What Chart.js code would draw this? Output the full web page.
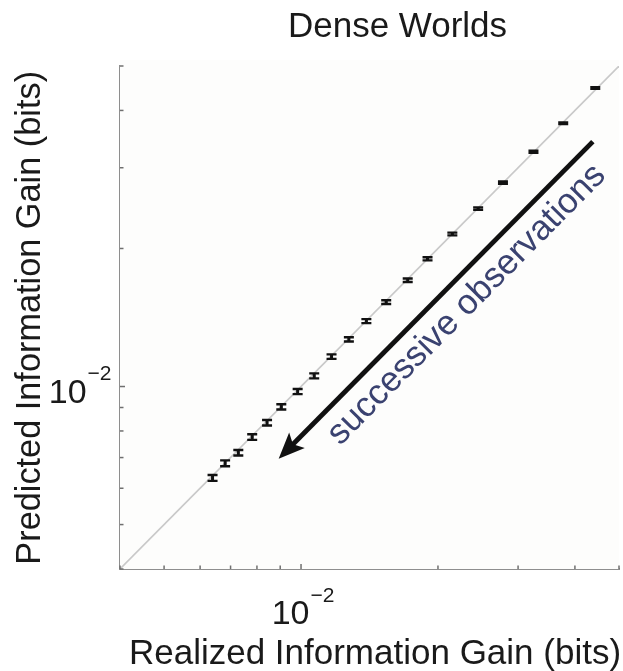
<!DOCTYPE html>
<html>
<head>
<meta charset="utf-8">
<script src="https://cdn.jsdelivr.net/npm/chart.js@4.4.1/dist/chart.umd.min.js"></script>
<style>
html,body{margin:0;padding:0;background:#ffffff;}
canvas{display:block;}
</style>
</head>
<body>
<canvas id="c" width="623" height="671"></canvas>
<script>
// ---------- data ----------
const chartTitle = 'Dense Worlds';
const xTitle = 'Realized Information Gain (bits)';
const yTitle = 'Predicted Information Gain (bits)';
const annotationText = 'successive observations';

const realized  = [0.00639,0.00681,0.00728,0.00781,0.00842,0.00905,0.00983,0.01069,0.01167,0.01274,
                   0.01392,0.01539,0.01716,0.01897,0.02151,0.02451,0.02779,0.03243,0.03770,0.04434];
const predicted = [0.00632,0.00680,0.00717,0.00776,0.00834,0.00903,0.00975,0.01055,0.01162,0.01267,
                   0.01389,0.01528,0.01705,0.01899,0.02151,0.02443,0.02783,0.03252,0.03751,0.04475];
const predictedErr = [0.000095,0.000100,0.000100,0.000110,0.000115,0.000120,0.000125,0.000130,0.000130,0.000135,
                      0.000140,0.000145,0.000150,0.000150,0.000150,0.000155,0.000160,0.000165,0.000170,0.000180];

const axisMin = 0.004;
const axisMax = 0.05;
const tickValues = [0.004,0.005,0.006,0.007,0.008,0.009,0.01,0.02,0.03,0.04,0.05];
const labelledTicks = [0.01];
const tickBase = '10';
const tickExponent = '\u22122';

const arrowTail = {x:0.0438, y:0.0342};
const arrowTip  = {x:0.00893, y:0.00696};
const annotationAnchor = {x:0.01219, y:0.00741};

// ---------- drawing ----------
const FONT = '"Liberation Sans", Arial, Helvetica, sans-serif';

const decor = {
  id: 'decor',
  beforeDatasetsDraw(chart) {
    const {ctx, chartArea: a} = chart;
    ctx.save();
    ctx.fillStyle = '#fdfdfc';
    ctx.fillRect(a.left, a.top - 6, a.right - a.left, a.bottom - a.top + 6);
    ctx.restore();
  },
  afterDatasetsDraw(chart) {
    const {ctx} = chart;
    const xs = chart.scales.x, ys = chart.scales.y;
    // error bars
    ctx.save();
    ctx.strokeStyle = '#111111';
    realized.forEach((xv, i) => {
      const px = xs.getPixelForValue(xv);
      const y1 = ys.getPixelForValue(predicted[i] - predictedErr[i]);
      const y2 = ys.getPixelForValue(predicted[i] + predictedErr[i]);
      const hw = 5;
      ctx.lineWidth = 3;
      ctx.beginPath();
      ctx.moveTo(px, y1); ctx.lineTo(px, y2);
      ctx.stroke();
      ctx.lineWidth = 2.4;
      ctx.beginPath();
      ctx.moveTo(px - hw, y1); ctx.lineTo(px + hw, y1);
      ctx.moveTo(px - hw, y2); ctx.lineTo(px + hw, y2);
      ctx.stroke();
    });
    ctx.restore();

    // arrow
    const tx = xs.getPixelForValue(arrowTail.x), ty = ys.getPixelForValue(arrowTail.y);
    const hx = xs.getPixelForValue(arrowTip.x),  hy = ys.getPixelForValue(arrowTip.y);
    const dx = hx - tx, dy = hy - ty, len = Math.hypot(dx, dy);
    const ux = dx / len, uy = dy / len, nx = -uy, ny = ux;
    const L = 26, W = 11;
    ctx.save();
    ctx.strokeStyle = '#111111';
    ctx.fillStyle = '#111111';
    ctx.lineWidth = 4.8;
    ctx.beginPath();
    ctx.moveTo(tx, ty);
    ctx.lineTo(hx - ux * L * 0.7, hy - uy * L * 0.7);
    ctx.stroke();
    ctx.beginPath();
    ctx.moveTo(hx, hy);
    ctx.lineTo(hx - ux * L + nx * W, hy - uy * L + ny * W);
    ctx.lineTo(hx - ux * L * 0.78, hy - uy * L * 0.78);
    ctx.lineTo(hx - ux * L - nx * W, hy - uy * L - ny * W);
    ctx.closePath();
    ctx.fill();
    ctx.restore();

    // annotation text, parallel to the arrow
    const ax = xs.getPixelForValue(annotationAnchor.x), ay = ys.getPixelForValue(annotationAnchor.y);
    const ang = Math.atan2(ty - hy, tx - hx);
    ctx.save();
    ctx.translate(ax, ay);
    ctx.rotate(ang);
    ctx.font = '35px ' + FONT;
    ctx.fillStyle = '#3a4270';
    ctx.textAlign = 'left';
    ctx.textBaseline = 'alphabetic';
    ctx.fillText(annotationText, 0, 0);
    ctx.restore();
  },
  afterDraw(chart) {
    const {ctx, chartArea: a} = chart;
    const xs = chart.scales.x, ys = chart.scales.y;
    ctx.save();
    // inward tick marks
    ctx.strokeStyle = '#6f6f6f';
    ctx.lineWidth = 1.5;
    tickValues.forEach(v => {
      const major = labelledTicks.includes(v);
      const l = major ? 5 : 3.5;
      const px = xs.getPixelForValue(v);
      ctx.beginPath(); ctx.moveTo(px, a.bottom); ctx.lineTo(px, a.bottom - l); ctx.stroke();
      const py = ys.getPixelForValue(v);
      ctx.beginPath(); ctx.moveTo(a.left, py); ctx.lineTo(a.left + l, py); ctx.stroke();
    });

    // tick labels 10^-2
    ctx.fillStyle = '#1a1a1a';
    ctx.textAlign = 'left';
    ctx.textBaseline = 'alphabetic';
    labelledTicks.forEach(v => {
      ctx.font = '34px ' + FONT;
      const wb = ctx.measureText(tickBase).width;
      ctx.font = '21px ' + FONT;
      const we = ctx.measureText(tickExponent).width;
      // x axis
      const px = xs.getPixelForValue(v);
      const left = px - (wb + we) / 2 + 1.5;
      ctx.font = '34px ' + FONT;
      ctx.fillText(tickBase, left, a.bottom + 54.5);
      ctx.font = '21px ' + FONT;
      ctx.fillText(tickExponent, left + wb + 1, a.bottom + 32.5);
      // y axis
      const py = ys.getPixelForValue(v);
      const right = a.left - 8.5;
      ctx.font = '21px ' + FONT;
      ctx.fillText(tickExponent, right - we, py - 7);
      ctx.font = '34px ' + FONT;
      ctx.fillText(tickBase, right - we - 1 - wb, py + 16.5);
    });

    // titles
    ctx.textAlign = 'center';
    ctx.font = '35px ' + FONT;
    ctx.fillText(chartTitle, 397.5, 37);
    ctx.fillText(xTitle, 375, 664);
    ctx.translate(39.5, 317.8);
    ctx.rotate(-Math.PI / 2);
    ctx.font = '34.3px ' + FONT;
    ctx.fillText(yTitle, 0, 0);
    ctx.restore();
  }
};

const axisOpts = {
  type: 'logarithmic',
  min: axisMin,
  max: axisMax,
  ticks: {display: false},
  grid: {display: false, drawTicks: false},
  border: {display: true, color: '#8e8e8e', width: 2}
};

new Chart(document.getElementById('c'), {
  type: 'scatter',
  data: {
    datasets: [
      {
        type: 'line',
        data: [{x: axisMin, y: axisMin}, {x: axisMax, y: axisMax}],
        borderColor: '#c9c9c9',
        borderWidth: 1.6,
        pointRadius: 0,
        fill: false
      },
      {
        data: realized.map((v, i) => ({x: v, y: predicted[i]})),
        pointStyle: 'rect',
        pointRadius: 1.5,
        backgroundColor: '#111111',
        borderColor: '#111111',
        borderWidth: 0
      }
    ]
  },
  options: {
    responsive: false,
    animation: false,
    devicePixelRatio: 1,
    layout: {padding: {left: 120, right: 0, top: 66, bottom: 102}},
    plugins: {legend: {display: false}, tooltip: {enabled: false}, title: {display: false}},
    scales: {x: axisOpts, y: Object.assign({}, axisOpts)}
  },
  plugins: [decor]
});
</script>
</body>
</html>
